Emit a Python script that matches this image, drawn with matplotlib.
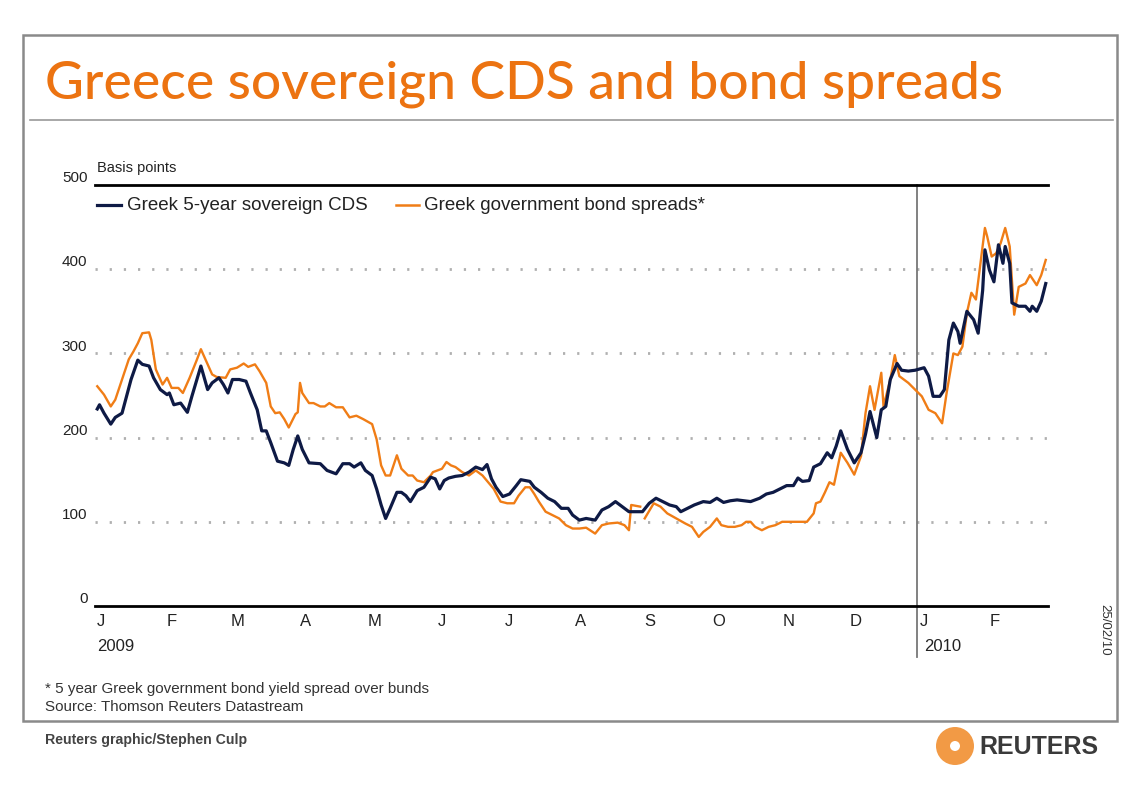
import numpy as np
import pandas as pd
import matplotlib
matplotlib.use("Agg")
import matplotlib.pyplot as plt
from matplotlib.patches import Rectangle, Ellipse
from matplotlib.lines import Line2D

plt.rcParams["font.family"] = ["Liberation Sans", "DejaVu Sans"]

# days after 2009-01-01
cds_day = [1, 2, 4, 7, 9, 12, 14, 16, 19, 21, 24, 26, 29, 32, 33, 35, 38, 41, 43, 45,
           47, 50, 52, 55, 57, 59, 61, 64, 67, 69, 72, 74, 76, 78, 81, 84, 86, 88, 90, 92,
           95, 100, 103, 107, 110, 113, 115, 118, 120, 123, 125, 127, 129, 131, 134, 136, 138, 140, 143, 146,
           149, 151, 153, 155, 157, 160, 163, 166, 169, 172, 174, 176, 178, 181, 184, 187, 189, 193, 195, 198,
           201, 204, 207, 210, 212, 215, 218, 222, 225, 228, 231, 234, 237, 240, 243, 246, 249, 252, 255, 258,
           260, 263, 266, 270, 273, 276, 279, 282, 285, 288, 291, 295, 298, 301, 304, 307, 310, 312, 314, 317,
           319, 322, 325, 327, 329, 331, 334, 337, 340, 342, 344, 347, 349, 351, 353, 356, 358, 361, 364, 368,
           370, 372, 375, 377, 379, 381, 383, 384, 387, 390, 392, 394, 395, 397, 399, 401, 403, 404, 406, 407,
           410, 413, 415, 416, 418, 420, 422]
cds_bp = [234, 239, 229, 216, 224, 229, 249, 269, 292, 287, 285, 271, 257, 251, 253, 239, 241, 230, 249, 267,
          285, 257, 265, 271, 263, 253, 269, 269, 267, 253, 233, 208, 208, 194, 172, 170, 167, 186, 202, 186,
          170, 169, 161, 157, 169, 169, 165, 170, 161, 155, 139, 120, 104, 116, 135, 135, 131, 124, 137, 141,
          153, 151, 139, 149, 152, 154, 155, 159, 165, 162, 168, 151, 141, 130, 133, 143, 150, 148, 141, 135,
          128, 124, 116, 116, 108, 102, 104, 102, 114, 118, 124, 118, 112, 112, 112, 122, 128, 124, 120, 118,
          112, 116, 120, 124, 123, 128, 123, 125, 126, 125, 124, 128, 133, 135, 139, 143, 143, 152, 148, 149,
          165, 169, 182, 176, 190, 208, 186, 170, 182, 204, 231, 200, 233, 237, 269, 288, 280, 279, 280, 283,
          273, 249, 249, 257, 316, 336, 326, 312, 350, 340, 324, 375, 423, 399, 385, 429, 407, 427, 407, 360,
          356, 356, 350, 356, 350, 362, 383]

bond_day = [1, 4, 7, 9, 12, 15, 17, 19, 21, 24, 25, 27, 30, 32, 34, 37, 39, 42, 45, 47,
            50, 52, 54, 58, 60, 63, 66, 68, 71, 73, 76, 78, 80, 82, 84, 86, 89, 90, 91, 92,
            95, 97, 100, 102, 104, 107, 110, 113, 116, 119, 123, 125, 127, 129, 131, 134, 136, 139, 141, 143,
            146, 149, 150, 154, 156, 158, 160, 163, 166, 169, 172, 177, 180, 183, 186, 188, 191, 193, 195, 197,
            200, 203, 206, 209, 212, 215, 218, 222, 225, 228, 232, 235, 237, 238, 242, 243, 244, 248, 251, 254,
            258, 262, 265, 268, 270, 273, 276, 278, 281, 284, 287, 289, 291, 293, 296, 299, 302, 305, 308, 313,
            316, 319, 320, 322, 324, 326, 328, 331, 334, 337, 340, 342, 344, 346, 349, 350, 353, 355, 357, 361,
            364, 367, 370, 373, 376, 378, 381, 383, 385, 387, 389, 391, 393, 395, 396, 398, 400, 402, 404, 406,
            408, 410, 413, 415, 418, 420, 422]
bond_bp = [261, 251, 237, 245, 269, 293, 302, 312, 324, 325, 316, 281, 263, 271, 259, 259, 253, 271, 291, 305,
           287, 275, 272, 271, 281, 283, 288, 284, 287, 279, 265, 237, 229, 230, 222, 212, 228, 230, 265, 253,
           241, 241, 237, 237, 241, 236, 236, 224, 226, 222, 216, 198, 167, 155, 155, 179, 163, 155, 155, 149,
           147, 155, 159, 163, 171, 167, 165, 159, 155, 161, 155, 139, 124, 122, 122, 131, 141, 141, 133, 124,
           112, 108, 104, 96, 92, 92, 93, 86, 96, 98, 99, 96, 90, 120, 118, np.nan, 104, 122, 118, 110,
           104, 98, 94, 82, 88, 94, 104, 96, 94, 94, 96, 100, 100, 94, 90, 94, 96, 100, 100, 100,
           100, 110, 122, 124, 135, 147, 144, 182, 170, 156, 178, 229, 261, 233, 277, 237, 269, 298, 273, 265,
           257, 249, 233, 229, 217, 253, 300, 298, 308, 348, 372, 364, 407, 449, 439, 415, 419, 431, 449, 427,
           346, 379, 383, 393, 381, 393, 411]

y_ticks = [0, 100, 200, 300, 400, 500]
month_letters = ["J", "F", "M", "A", "M", "J", "J", "A", "S", "O", "N", "D", "J", "F"]

NAVY = "#0e1a45"
ORANGE = "#f07d16"
TITLE_ORANGE = "#ec7311"
TXT = "#222222"
W, H = 1121, 787

start = pd.Timestamp("2009-01-01")
cds_dates = start + pd.to_timedelta(cds_day, unit="D")
bond_dates = start + pd.to_timedelta(bond_day, unit="D")


def fx(px):
    return px / W


def fy(py):
    return 1 - py / H


fig = plt.figure(figsize=(W / 100, H / 100), dpi=100)
fig.patch.set_facecolor("white")

# outer frame and title rule
fig.patches.append(Rectangle((fx(23), fy(721)), fx(1117) - fx(23), fy(35) - fy(721),
                             transform=fig.transFigure, fill=False, edgecolor="#8a8a8a", lw=1.8))
fig.lines.append(Line2D([fx(30), fx(1113)], [fy(120), fy(120)], transform=fig.transFigure,
                        color="#9a9a9a", lw=1.2))

fig.text(fx(45), fy(98), "Greece sovereign CDS and bond spreads", fontsize=38.4,
         family="Lato", weight="medium", color=TITLE_ORANGE, ha="left", va="baseline")

ax = fig.add_axes([fx(95), fy(606), fx(1048) - fx(95), fy(185) - fy(606)])
ax.set_xlim(start, start + pd.Timedelta(days=423))
ax.set_ylim(0, 500)

for v in [100, 200, 300, 400]:
    ax.axhline(v, color="#b0b0b0", lw=2, linestyle=(0, (0.8, 4.3)), zorder=1)
ax.axhline(500, color="black", lw=2, clip_on=False, zorder=3)
ax.axhline(0, color="black", lw=2, clip_on=False, zorder=3)

ax.plot(bond_dates, bond_bp, color=ORANGE, lw=1.7, zorder=4)
ax.plot(cds_dates, cds_bp, color=NAVY, lw=2.3, zorder=5)

# year divider
jan10 = pd.Timestamp("2010-01-01")
ax.plot([jan10, jan10], [500, -60], color="#777777", lw=1.3, clip_on=False, zorder=2)

for s in ax.spines.values():
    s.set_visible(False)
ax.set_yticks([])
ax.set_xticks([])

for v in y_ticks:
    ax.text(-0.008, v + 8, str(v), transform=ax.get_yaxis_transform(), ha="right", va="center",
            fontsize=11, color=TXT)

months = pd.date_range("2009-01-01", "2010-02-01", freq="MS")
for m, lab in zip(months, month_letters):
    ax.text(m + pd.Timedelta(days=1), -18, lab, ha="left", va="center", fontsize=12, color=TXT)
ax.text(start + pd.Timedelta(days=1), -48, "2009", ha="left", va="center", fontsize=12, color=TXT)
ax.text(jan10 + pd.Timedelta(days=3), -48, "2010", ha="left", va="center", fontsize=12, color=TXT)

fig.text(fx(97), fy(168), "Basis points", fontsize=10.5, color=TXT, va="center")

# legend
fig.lines.append(Line2D([fx(97), fx(121)], [fy(205), fy(205)], transform=fig.transFigure,
                        color=NAVY, lw=2.3))
fig.text(fx(127), fy(205), "Greek 5-year sovereign CDS", fontsize=13.5, color=TXT, va="center")
fig.lines.append(Line2D([fx(396), fx(419)], [fy(205), fy(205)], transform=fig.transFigure,
                        color=ORANGE, lw=1.8))
fig.text(fx(424), fy(205), "Greek government bond spreads*", fontsize=13.5, color=TXT, va="center")

fig.text(fx(1104), fy(630), "25/02/10", rotation=-90, fontsize=9.5, color="#333333",
         ha="center", va="center")

fig.text(fx(45), fy(689), "* 5 year Greek government bond yield spread over bunds", fontsize=10.9,
         color="#333333", va="center")
fig.text(fx(45), fy(707), "Source: Thomson Reuters Datastream", fontsize=10.9, color="#333333", va="center")
fig.text(fx(45), fy(740), "Reuters graphic/Stephen Culp", fontsize=10.2, color="#444444",
         va="center", weight="bold")

# logo
fig.patches.append(Ellipse((fx(955), fy(746)), 38 / W, 38 / H, transform=fig.transFigure,
                           facecolor="#f29a45", edgecolor="none"))
fig.patches.append(Ellipse((fx(955), fy(746)), 10 / W, 10 / H, transform=fig.transFigure,
                           facecolor="white", edgecolor="none"))
fig.text(fx(979), fy(747), "REUTERS", fontsize=18, weight="bold", color="#3a3a3a", va="center")

fig.savefig("out.png", dpi=100)
